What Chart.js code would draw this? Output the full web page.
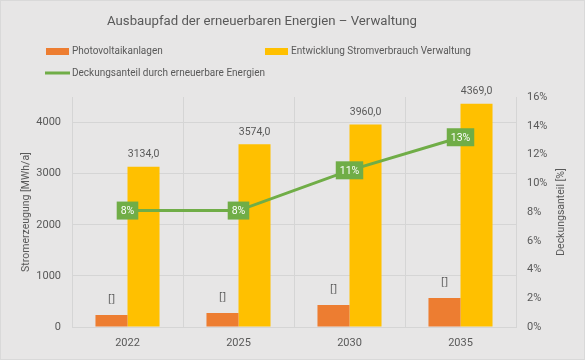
<!DOCTYPE html>
<html>
<head>
<meta charset="utf-8">
<script src="https://cdn.jsdelivr.net/npm/chart.js@4"></script>
<style>
    html, body { margin: 0; padding: 0; background: #e7e6e6; }
    canvas { display: block; }
</style>
</head>
<body>
<canvas id="chart" width="585" height="360"></canvas>
<script>
const categories = ['2022', '2025', '2030', '2035'];
const pvValues = [235, 272, 430, 565];
const consumptionValues = [3134.0, 3574.0, 3960.0, 4369.0];
const coverageValues = [8.1, 8.1, 10.9, 13.2];
const pvLabels = ['[]', '[]', '[]', '[]'];
const leftTicks = [0, 1000, 2000, 3000, 4000];
const rightTicks = [0, 2, 4, 6, 8, 10, 12, 14, 16];

const FONT = 'Roboto, sans-serif';
const TEXT = '#595959';
const GRID = '#d5d5d5';
const ORANGE = '#ED7D31';
const YELLOW = '#FFC000';
const GREEN = '#70AD47';

const decorPlugin = {
    id: 'decor',
    beforeDraw: (chart) => {
        const ctx = chart.ctx;
        ctx.save();
        ctx.fillStyle = '#e7e6e6';
        ctx.fillRect(0, 0, chart.width, chart.height);
        ctx.strokeStyle = '#d9d9d9';
        ctx.lineWidth = 1;
        ctx.strokeRect(0.5, 0.5, chart.width - 1, chart.height - 1);
        ctx.restore();
    },
    afterDraw: (chart) => {
        const ctx = chart.ctx;
        ctx.save();
        // title
        ctx.fillStyle = TEXT;
        ctx.font = '13.2px ' + FONT;
        ctx.textAlign = 'center';
        ctx.textBaseline = 'middle';
        ctx.fillText('Ausbaupfad der erneuerbaren Energien \u2013 Verwaltung', 262, 22);

        // legend
        const ds = chart.data.datasets;
        ctx.font = '10px ' + FONT;
        ctx.textAlign = 'left';
        ctx.fillStyle = ds[0].backgroundColor;
        ctx.fillRect(46, 48, 23, 7);
        ctx.fillStyle = ds[1].backgroundColor;
        ctx.fillRect(265, 48, 23, 7);
        ctx.strokeStyle = ds[2].borderColor;
        ctx.lineWidth = 3;
        ctx.beginPath();
        ctx.moveTo(45, 73);
        ctx.lineTo(70, 73);
        ctx.stroke();
        ctx.fillStyle = TEXT;
        ctx.fillText(ds[0].label, 72, 51);
        ctx.fillText(ds[1].label, 291, 51);
        ctx.fillText(ds[2].label, 72, 73);

        // right axis title
        ctx.font = '10.5px ' + FONT;
        ctx.translate(561, chart.chartArea.top + chart.chartArea.height / 2);
        ctx.rotate(-Math.PI / 2);
        ctx.textAlign = 'center';
        ctx.fillText('Deckungsanteil [%]', 0, 0);
        ctx.restore();
    },
    afterDatasetsDraw: (chart) => {
        const ctx = chart.ctx;
        ctx.save();
        ctx.textAlign = 'center';
        ctx.textBaseline = 'middle';
        ctx.fillStyle = TEXT;
        ctx.font = '11px "Open Sans", sans-serif';
        chart.getDatasetMeta(0).data.forEach((bar, i) => {
            ctx.fillText(pvLabels[i], bar.x, bar.y - 16);
        });
        ctx.font = '10.5px ' + FONT;
        chart.getDatasetMeta(1).data.forEach((bar, i) => {
            ctx.fillText(consumptionValues[i].toFixed(1).replace('.', ','), bar.x, bar.y - 12);
        });
        chart.getDatasetMeta(2).data.forEach((pt, i) => {
            const txt = Math.round(coverageValues[i]) + '%';
            const w = ctx.measureText(txt).width + 8;
            ctx.fillStyle = GREEN;
            ctx.fillRect(pt.x - w / 2, pt.y - 9, w, 18);
            ctx.fillStyle = '#ffffff';
            ctx.fillText(txt, pt.x, pt.y + 1);
        });
        ctx.restore();
    }
};

new Chart(document.getElementById('chart'), {
    type: 'bar',
    data: {
        labels: categories,
        datasets: [
            {
                label: 'Photovoltaikanlagen',
                data: pvValues,
                backgroundColor: ORANGE,
                yAxisID: 'y',
                order: 1,
                categoryPercentage: 0.577,
                barPercentage: 1.0
            },
            {
                label: 'Entwicklung Stromverbrauch Verwaltung',
                data: consumptionValues,
                backgroundColor: YELLOW,
                yAxisID: 'y',
                order: 1,
                categoryPercentage: 0.577,
                barPercentage: 1.0
            },
            {
                type: 'line',
                label: 'Deckungsanteil durch erneuerbare Energien',
                data: coverageValues,
                borderColor: GREEN,
                backgroundColor: GREEN,
                borderWidth: 3,
                pointRadius: 0,
                tension: 0,
                yAxisID: 'y1',
                order: 0
            }
        ]
    },
    options: {
        responsive: false,
        animation: false,
        layout: { padding: { top: 97, left: 0, right: 0, bottom: 0 } },
        plugins: {
            legend: { display: false },
            title: { display: false },
            tooltip: { enabled: false }
        },
        scales: {
            x: {
                offset: true,
                grid: { offset: true, color: GRID, drawTicks: false },
                border: { color: GRID },
                ticks: { color: TEXT, font: { family: FONT, size: 11 }, padding: 10 },
                afterFit: (scale) => { scale.height = 33; }
            },
            y: {
                position: 'left',
                min: 0,
                max: 4500,
                afterBuildTicks: (scale) => { scale.ticks = leftTicks.map(v => ({ value: v })); },
                ticks: {
                    color: TEXT,
                    font: { family: FONT, size: 11 },
                    padding: 11,
                    callback: (v) => String(v)
                },
                grid: { color: GRID, drawTicks: false },
                border: { display: false },
                title: {
                    display: true,
                    text: 'Stromerzeugung [MWh/a]',
                    color: TEXT,
                    font: { family: FONT, size: 10.5 },
                    padding: { top: 20, bottom: 0 }
                },
                afterFit: (scale) => { scale.width = 72; }
            },
            y1: {
                position: 'right',
                min: 0,
                max: 16,
                afterBuildTicks: (scale) => { scale.ticks = rightTicks.map(v => ({ value: v })); },
                ticks: {
                    color: TEXT,
                    font: { family: FONT, size: 11 },
                    padding: 11,
                    callback: (v) => v + '%'
                },
                grid: { display: false, drawTicks: false },
                border: { display: false },
                afterFit: (scale) => { scale.width = 69; }
            }
        }
    },
    plugins: [decorPlugin]
});
</script>
</body>
</html>
